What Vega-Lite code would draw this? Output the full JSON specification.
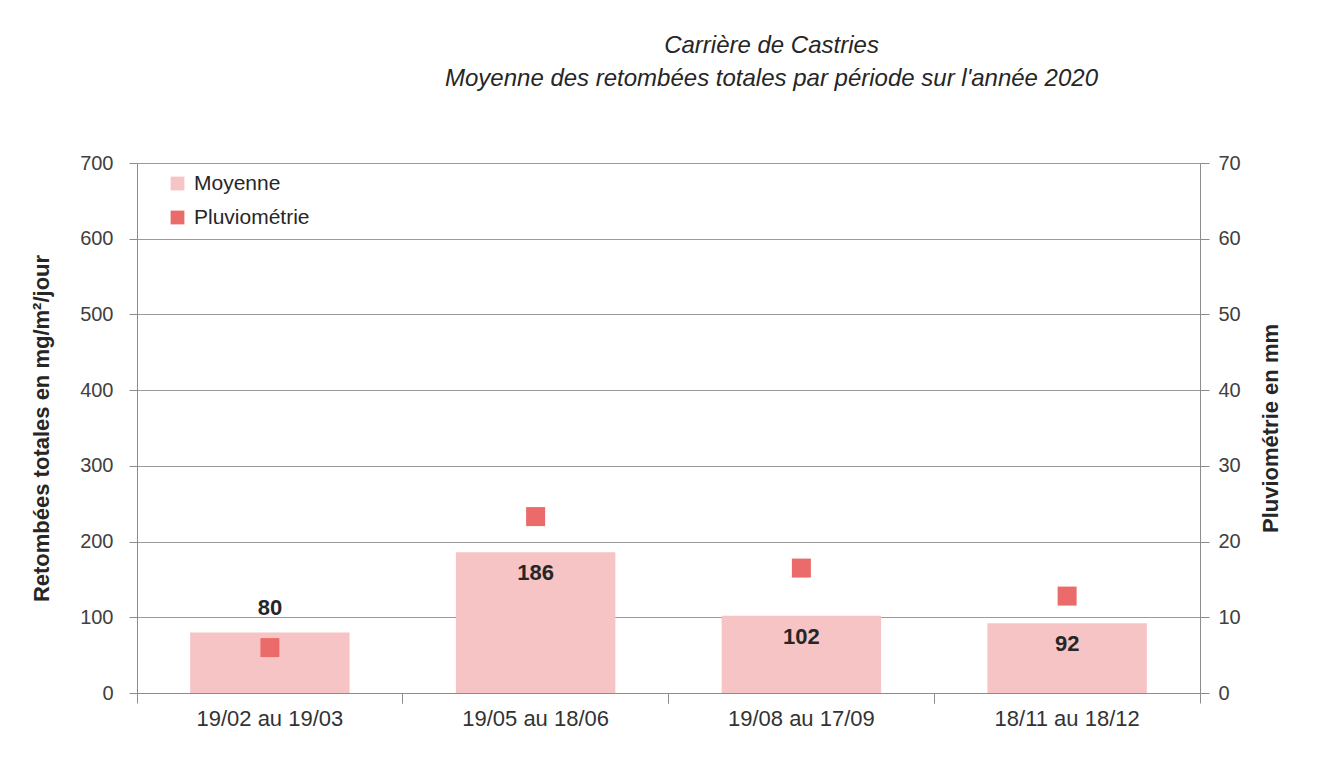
{
  "$schema": "https://vega.github.io/schema/vega-lite/v6.json",
  "autosize": {"type": "none"},
  "width": 1063,
  "height": 530,
  "padding": {"left": 137, "top": 163, "right": 136, "bottom": 65},
  "background": "white",
  "config": {
    "view": {"stroke": null},
    "font": "Liberation Sans",
    "axis": {"labelFont": "Liberation Sans", "labelColor": "#404040", "domainColor": "#8c8c8c", "tickColor": "#8c8c8c", "gridColor": "#9a9a9a", "titleColor": "#262626"}
  },
  "title": {
    "text": ["Carrière de Castries", "Moyenne des retombées totales par période sur l'année 2020"],
    "frame": "group",
    "anchor": "middle",
    "dx": 103,
    "offset": 62,
    "fontSize": 24,
    "fontStyle": "italic",
    "fontWeight": "normal",
    "font": "Liberation Sans",
    "color": "#262626",
    "lineHeight": 33
  },
  "data": {
    "values": [
      {"periode": "19/02 au 19/03", "moyenne": 80, "pluvio": 6.0},
      {"periode": "19/05 au 18/06", "moyenne": 186, "pluvio": 23.3},
      {"periode": "19/08 au 17/09", "moyenne": 102, "pluvio": 16.5},
      {"periode": "18/11 au 18/12", "moyenne": 92, "pluvio": 12.8}
    ]
  },
  "resolve": {"scale": {"y": "independent", "x": "shared"}, "axis": {"x": "independent", "y": "independent"}},
  "layer": [
    {
      "mark": {"type": "bar", "width": {"band": 0.6}},
      "encoding": {
        "x": {"field": "periode", "type": "nominal", "sort": null, "scale": {"paddingInner": 0, "paddingOuter": 0},
          "axis": {"orient": "bottom", "title": null, "labelAngle": 0, "labelFontSize": 22, "labelColor": "#333333", "labelPadding": 15, "ticks": false, "domain": true, "grid": false}},
        "y": {"field": "moyenne", "type": "quantitative", "scale": {"domain": [0, 700]},
          "axis": {"orient": "left", "values": [0, 100, 200, 300, 400, 500, 600, 700], "title": "Retombées totales en mg/m²/jour",
            "titleFont": "Liberation Sans", "titleFontSize": 22, "titleFontWeight": "bold", "titlePadding": 26,
            "labelFontSize": 20, "labelPadding": 16, "tickSize": 8, "domain": true, "grid": true}},
        "color": {"datum": "Moyenne", "type": "nominal",
          "scale": {"domain": ["Moyenne", "Pluviométrie"], "range": ["#F6C4C4", "#EB6A6A"]},
          "legend": {"title": null, "orient": "none", "legendX": 30, "legendY": 10, "symbolType": "square", "symbolSize": 190,
            "labelFontSize": 21, "labelColor": "#262626", "labelFont": "Liberation Sans", "labelOffset": 6, "rowPadding": 12, "symbolStrokeWidth": 0}}
      }
    },
    {
      "mark": {"type": "point", "shape": "square", "filled": true, "size": 361, "opacity": 1},
      "encoding": {
        "x": {"field": "periode", "type": "nominal", "sort": null,
          "axis": {"orient": "bottom", "title": null, "labels": false, "domain": false, "grid": false, "ticks": true, "tickSize": 10, "bandPosition": 0}},
        "y": {"field": "pluvio", "type": "quantitative", "scale": {"domain": [0, 70]},
          "axis": {"orient": "right", "values": [0, 10, 20, 30, 40, 50, 60, 70], "title": "Pluviométrie en mm",
            "titleFont": "Liberation Sans", "titleFontSize": 22, "titleFontWeight": "bold", "titlePadding": 20, "titleAngle": 270, "titleBaseline": "top",
            "labelFontSize": 20, "labelPadding": 9, "tickSize": 9, "domain": true, "grid": false}},
        "color": {"datum": "Pluviométrie", "type": "nominal"}
      }
    },
    {
      "transform": [{"filter": "datum.moyenne >= 90"}],
      "mark": {"type": "text", "font": "Liberation Sans", "fontWeight": "bold", "fontSize": 22, "color": "#262626", "baseline": "middle", "dy": 21},
      "encoding": {
        "x": {"field": "periode", "type": "nominal", "sort": null,
          "axis": {"orient": "bottom", "title": null, "labels": false, "domain": false, "grid": false, "ticks": true, "tickSize": 10, "bandPosition": 1}},
        "y": {"field": "moyenne", "type": "quantitative", "scale": {"domain": [0, 700]}, "axis": null},
        "text": {"field": "moyenne", "type": "quantitative"}
      }
    },
    {
      "transform": [{"filter": "datum.moyenne < 90"}],
      "mark": {"type": "text", "font": "Liberation Sans", "fontWeight": "bold", "fontSize": 22, "color": "#262626", "baseline": "middle", "dy": -24},
      "encoding": {
        "x": {"field": "periode", "type": "nominal", "sort": null, "axis": null},
        "y": {"field": "moyenne", "type": "quantitative", "scale": {"domain": [0, 700]}, "axis": null},
        "text": {"field": "moyenne", "type": "quantitative"}
      }
    }
  ]
}
